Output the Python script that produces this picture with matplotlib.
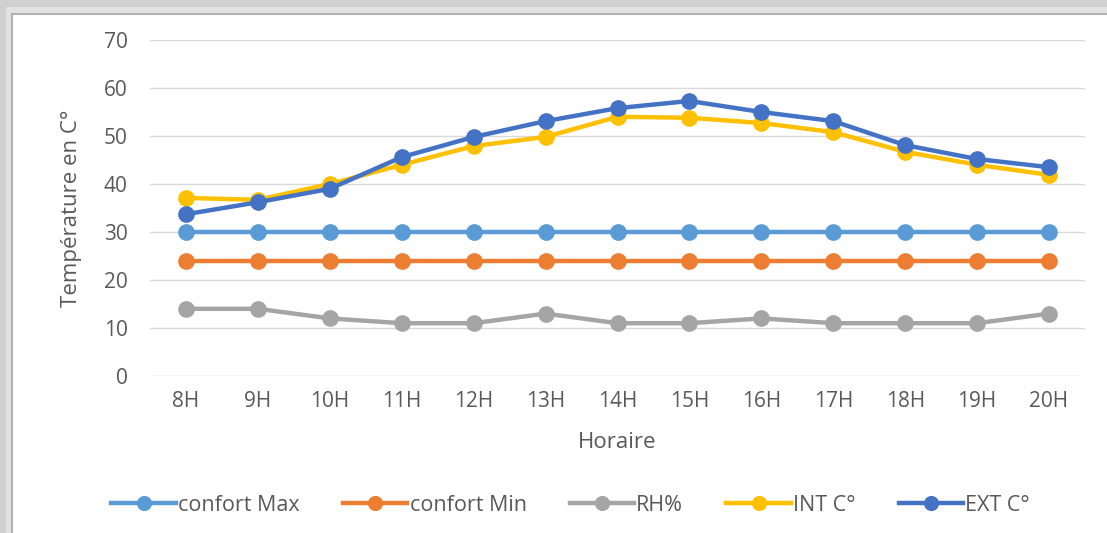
import numpy as np
import matplotlib.pyplot as plt
from matplotlib.patches import Rectangle

heures = ['8H', '9H', '10H', '11H', '12H', '13H', '14H', '15H', '16H', '17H', '18H', '19H', '20H']
confort_max = [30, 30, 30, 30, 30, 30, 30, 30, 30, 30, 30, 30, 30]
confort_min = [24, 24, 24, 24, 24, 24, 24, 24, 24, 24, 24, 24, 24]
rh = [14, 14, 12, 11, 11, 13, 11, 11, 12, 11, 11, 11, 13]
int_c = [37.1, 36.7, 40.0, 44.0, 47.9, 49.8, 54.0, 53.8, 52.7, 50.8, 46.7, 44.0, 41.9]
ext_c = [33.7, 36.2, 39.0, 45.6, 49.8, 53.1, 55.8, 57.3, 55.0, 53.1, 48.1, 45.2, 43.5]

plt.rcParams['font.family'] = ['Open Sans', 'DejaVu Sans']
gris_txt = '#595959'

fig = plt.figure(figsize=(11.07, 5.33), dpi=100)

# cadre avec ombre (capture Excel)
fig.patches.append(Rectangle((0, 0), 1, 1, transform=fig.transFigure,
                             facecolor='#d0d0d0', edgecolor='none', zorder=-10))
fig.patches.append(Rectangle((6 / 1107, 0), 1, 1 - 7 / 533, transform=fig.transFigure,
                             facecolor='#e2e2e2', edgecolor='none', zorder=-9))
fig.patches.append(Rectangle((12 / 1107, -0.1), 1.1, 1.1 - 14 / 533, transform=fig.transFigure,
                             facecolor='white', edgecolor='#b0b0b0', linewidth=1.5, zorder=-5))

ax = fig.add_axes([150 / 1107, 1 - 376 / 533, (1085 - 150) / 1107, (376 - 40) / 533])
ax.set_facecolor('none')

x = np.arange(len(heures))
series = [
    (confort_max, '#5B9BD5', 'confort Max'),
    (confort_min, '#ED7D31', 'confort Min'),
    (rh, '#A5A5A5', 'RH%'),
    (int_c, '#FFC000', 'INT C°'),
    (ext_c, '#4472C4', 'EXT C°'),
]
for y, c, lab in series:
    ax.plot(x, y, color=c, linewidth=3.2, marker='o', markersize=11, label=lab)

ax.set_xlim(-0.5, len(heures) - 0.5)
ax.set_ylim(0, 70)
ax.set_yticks(np.arange(0, 71, 10))
ax.set_xticks(x)
ax.set_xticklabels(heures)
ax.tick_params(length=0, labelsize=15, colors=gris_txt)
ax.tick_params(axis='x', pad=11)
ax.tick_params(axis='y', pad=16)
ax.grid(axis='y', color='#d9d9d9', linewidth=1)
ax.set_axisbelow(True)
for s in ax.spines.values():
    s.set_visible(False)

ax.set_xlabel('Horaire', fontsize=16, color=gris_txt, labelpad=14)
ax.set_ylabel('Température en C°', fontsize=16, color=gris_txt, labelpad=16)

ax.legend(loc='center', bbox_to_anchor=(0.45, -0.385), ncol=5, frameon=False,
          fontsize=15.5, labelcolor=gris_txt, handlelength=3.0, handletextpad=0.1,
          columnspacing=2.0, markerscale=0.9)

plt.savefig('out.png', dpi=100)
